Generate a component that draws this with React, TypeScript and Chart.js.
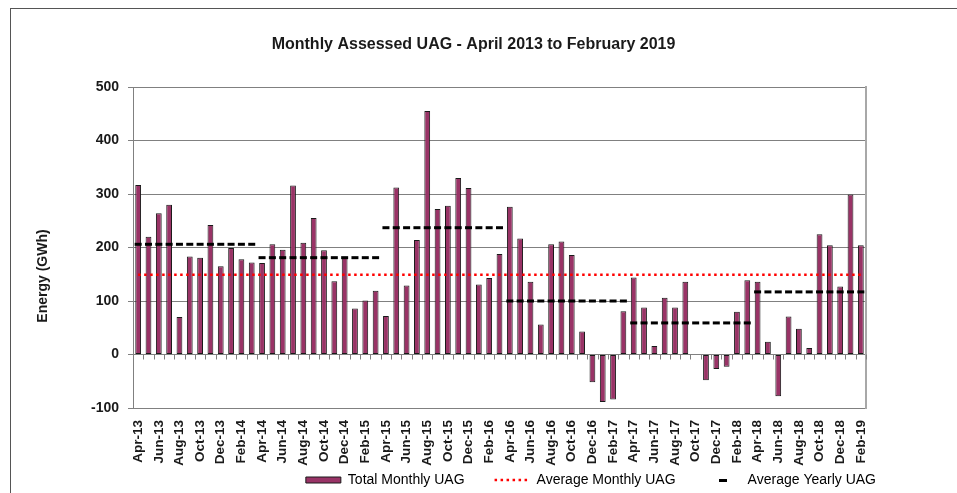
import { useEffect, useRef } from 'react';
import { Chart, registerables } from 'chart.js';

Chart.register(...registerables);
Chart.defaults.font.family = "'Liberation Sans', Arial, sans-serif";

const categories = [
  'Apr-13', 'May-13', 'Jun-13', 'Jul-13', 'Aug-13', 'Sep-13', 'Oct-13', 'Nov-13', 'Dec-13', 'Jan-14', 'Feb-14', 'Mar-14',
  'Apr-14', 'May-14', 'Jun-14', 'Jul-14', 'Aug-14', 'Sep-14', 'Oct-14', 'Nov-14', 'Dec-14', 'Jan-15', 'Feb-15', 'Mar-15',
  'Apr-15', 'May-15', 'Jun-15', 'Jul-15', 'Aug-15', 'Sep-15', 'Oct-15', 'Nov-15', 'Dec-15', 'Jan-16', 'Feb-16', 'Mar-16',
  'Apr-16', 'May-16', 'Jun-16', 'Jul-16', 'Aug-16', 'Sep-16', 'Oct-16', 'Nov-16', 'Dec-16', 'Jan-17', 'Feb-17', 'Mar-17',
  'Apr-17', 'May-17', 'Jun-17', 'Jul-17', 'Aug-17', 'Sep-17', 'Oct-17', 'Nov-17', 'Dec-17', 'Jan-18', 'Feb-18', 'Mar-18',
  'Apr-18', 'May-18', 'Jun-18', 'Jul-18', 'Aug-18', 'Sep-18', 'Oct-18', 'Nov-18', 'Dec-18', 'Jan-19', 'Feb-19',
];

const totalMonthlyUAG = [
  317, 220, 264, 280, 70, 183, 181, 242, 165, 199, 178, 172,
  171, 206, 196, 316, 209, 255, 195, 137, 181, 86, 101, 119,
  72, 312, 129, 214, 455, 272, 278, 330, 311, 131, 143, 188,
  276, 217, 136, 56, 206, 211, 186, 43, -52, -89, -84, 81,
  144, 88, 16, 106, 88, 136, 1, -48, -27, -23, 80, 139,
  136, 24, -78, 71, 48, 12, 225, 204, 127, 299, 204,
];

const averageMonthlyUAG = 149;
// financial years April-March: 13/14, 14/15, 15/16, 16/17, 17/18, 18/19
const averageYearlyUAG = [206, 181, 237, 100, 59, 117];

const yMin = -100;
const yMax = 500;
const yStep = 100;

const TEXT = '#1a1a1a';
const GRID = '#808080';

export default function App() {
  const ref = useRef<HTMLCanvasElement>(null);

  useEffect(() => {
    const canvas = ref.current;
    if (!canvas) return;

    const dash = document.createElement('canvas');
    dash.width = 8;
    dash.height = 3;
    const dctx = dash.getContext('2d');
    if (dctx) {
      dctx.fillStyle = '#000';
      dctx.fillRect(0, 0, 8, 3);
    }

    const avgMonthlySeries = categories.map(() => averageMonthlyUAG);
    const avgYearlySeries = categories.map((_, i) => averageYearlyUAG[Math.floor(i / 12)]);

    const yLabelPlugin = {
      id: 'yLabel',
      afterDraw(chart: any) {
        const ctx = chart.ctx;
        const area = chart.chartArea;
        ctx.save();
        ctx.translate(area.left - 90, area.top + 189);
        ctx.rotate(-Math.PI / 2);
        ctx.font = "bold 14px 'Liberation Sans', Arial, sans-serif";
        ctx.fillStyle = TEXT;
        ctx.textAlign = 'center';
        ctx.textBaseline = 'middle';
        ctx.fillText('Energy (GWh)', 0, 0);
        ctx.restore();
      },
    };

    // lift the legend row so it sits just under the rotated month labels
    const legendShiftPlugin = {
      id: 'legendShift',
      afterLayout(chart: any) {
        const lg = chart.legend;
        if (lg) {
          lg.top -= 25;
          lg.bottom -= 25;
        }
      },
    };

    const zeroTicksPlugin = {
      id: 'zeroTicks',
      afterDatasetsDraw(chart: any) {
        const ctx = chart.ctx;
        const xs = chart.scales.x;
        const ys = chart.scales.y;
        const y0 = ys.getPixelForValue(0);
        const half = (xs.getPixelForValue(1) - xs.getPixelForValue(0)) / 2;
        ctx.save();
        ctx.strokeStyle = GRID;
        ctx.lineWidth = 1;
        ctx.beginPath();
        for (let i = 0; i <= categories.length; i++) {
          const px = Math.round(xs.getPixelForValue(i) - half) + 0.5;
          ctx.moveTo(px, y0);
          ctx.lineTo(px, y0 + 5);
        }
        ctx.stroke();
        ctx.restore();
      },
    };

    const chart = new Chart(canvas, {
      type: 'bar',
      data: {
        labels: categories,
        datasets: [
          {
            type: 'bar',
            label: 'Total Monthly UAG',
            data: totalMonthlyUAG,
            backgroundColor: '#993366',
            borderColor: '#1a1a1a',
            borderWidth: 1,
            borderSkipped: false,
            barPercentage: 0.56,
            categoryPercentage: 1,
            order: 3,
          },
          {
            type: 'line',
            label: 'Average Monthly UAG',
            data: avgMonthlySeries,
            borderColor: '#ff0000',
            backgroundColor: '#ff0000',
            borderWidth: 2.5,
            borderDash: [2.5, 3.5],
            pointRadius: 0,
            fill: false,
            order: 2,
          },
          {
            type: 'line',
            label: 'Average Yearly UAG',
            data: avgYearlySeries,
            showLine: false,
            pointStyle: 'line',
            pointRadius: 3.5,
            pointBorderWidth: 3,
            pointBorderColor: '#000',
            borderColor: '#000',
            backgroundColor: '#000',
            order: 1,
          },
        ],
      } as any,
      options: {
        responsive: false,
        animation: false,
        events: [],
        layout: { padding: { left: 41, right: 51, top: 0, bottom: -29 } },
        scales: {
          x: {
            grid: { display: false, drawTicks: false },
            border: { display: false },
            ticks: {
              autoSkip: false,
              maxRotation: 90,
              minRotation: 90,
              padding: 12,
              color: TEXT,
              font: { size: 13.5, weight: 'bold' },
              callback: (_v: any, i: number) => (i % 2 === 0 ? categories[i] : ''),
            },
            afterFit: (s: any) => {
              s.height = 60;
            },
          },
          y: {
            min: yMin,
            max: yMax,
            ticks: {
              stepSize: yStep,
              padding: 9,
              color: TEXT,
              font: { size: 14, weight: 'bold' },
            },
            grid: { color: GRID, tickColor: GRID, tickLength: 5, lineWidth: 1 },
            border: { display: true, color: GRID },
            afterFit: (s: any) => {
              s.width = 92;
            },
          },
          y2: {
            type: 'linear',
            position: 'right',
            grid: { display: false, drawTicks: false },
            ticks: { display: false },
            border: { display: true, color: '#a8a8a8', width: 2 },
            afterFit: (s: any) => {
              s.width = 40;
            },
          },
        },
        plugins: {
          tooltip: { enabled: false },
          title: {
            display: true,
            text: 'Monthly Assessed UAG - April 2013 to February 2019',
            color: TEXT,
            font: { size: 16, weight: 'bold' },
            padding: { top: 35.4, bottom: 32.4 },
          },
          legend: {
            position: 'bottom',
            align: 'end',
            labels: {
              usePointStyle: true,
              pointStyleWidth: 35,
              boxHeight: 6,
              padding: 30,
              color: TEXT,
              font: { size: 14 },
              generateLabels: () => [
                {
                  text: 'Total Monthly UAG',
                  fillStyle: '#993366',
                  strokeStyle: '#1a1a1a',
                  lineWidth: 1,
                  lineDash: [],
                  pointStyle: 'rect',
                  hidden: false,
                  datasetIndex: 0,
                },
                {
                  text: 'Average Monthly UAG',
                  fillStyle: '#ff0000',
                  strokeStyle: '#ff0000',
                  lineWidth: 2.5,
                  lineDash: [2.5, 3.5],
                  pointStyle: 'line',
                  hidden: false,
                  datasetIndex: 1,
                },
                {
                  text: 'Average Yearly UAG',
                  fillStyle: '#000',
                  strokeStyle: '#000',
                  lineWidth: 3,
                  lineDash: [],
                  pointStyle: dash,
                  hidden: false,
                  datasetIndex: 2,
                },
              ],
            },
          },
        },
      } as any,
      plugins: [yLabelPlugin, zeroTicksPlugin, legendShiftPlugin],
    });

    return () => {
      chart.destroy();
    };
  }, []);

  return (
    <div style={{ position: 'fixed', left: 0, top: 0, width: 957, height: 493, background: '#fff', overflow: 'hidden' }}>
      <div
        style={{
          position: 'absolute',
          left: 10,
          top: 8,
          width: 1200,
          height: 1200,
          borderLeft: '1px solid #555',
          borderTop: '1px solid #555',
        }}
      />
      <canvas ref={ref} width={957} height={493} style={{ position: 'absolute', left: 0, top: 0 }} />
    </div>
  );
}
